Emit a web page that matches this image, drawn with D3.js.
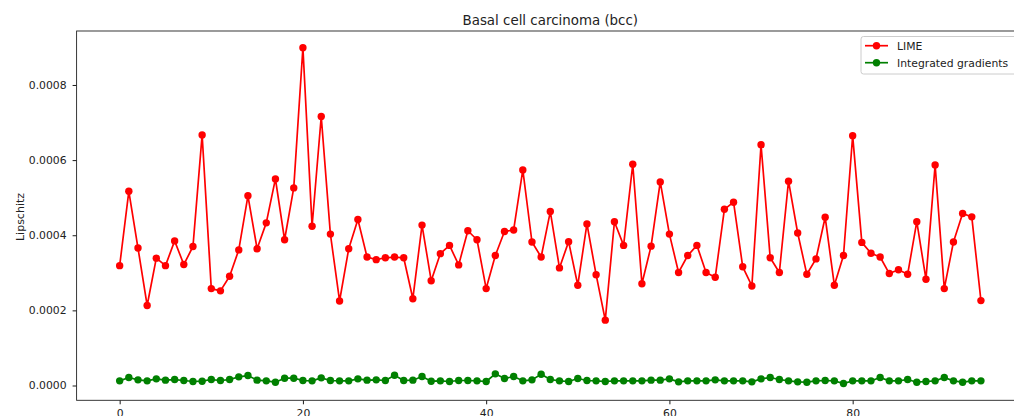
<!DOCTYPE html>
<html>
<head>
<meta charset="utf-8">
<script src="https://cdn.jsdelivr.net/npm/d3@7"></script>
<style>
html,body{margin:0;padding:0;background:#fff;overflow:hidden;}
text{font-family:"DejaVu Sans",sans-serif;}
</style>
</head>
<body>
<svg id="chart" width="1014" height="416"></svg>
<script>
const title = "Basal cell carcinoma (bcc)";
const yLabel = "Lipschitz";
const seriesNames = ["LIME", "Integrated gradients"];
const xTicks = [0, 20, 40, 60, 80];
const yTicks = [0, 0.0002, 0.0004, 0.0006, 0.0008];

const limeValues = [
  0.000319, 0.000517, 0.000366, 0.000213, 0.000339, 0.000319, 0.000385, 0.000322, 0.000370, 0.000667,
  0.000258, 0.000252, 0.000291, 0.000361, 0.000505, 0.000364, 0.000433, 0.000550, 0.000388, 0.000526,
  0.000899, 0.000424, 0.000716, 0.000403, 0.000225, 0.000364, 0.000442, 0.000342, 0.000335, 0.000340,
  0.000342, 0.000340, 0.000231, 0.000427, 0.000279, 0.000351, 0.000373, 0.000321, 0.000412, 0.000388,
  0.000258, 0.000346, 0.000410, 0.000414, 0.000574, 0.000382, 0.000342, 0.000463, 0.000313, 0.000383,
  0.000267, 0.000430, 0.000295, 0.000174, 0.000436, 0.000373, 0.000589, 0.000271, 0.000371, 0.000542,
  0.000403, 0.000301, 0.000346, 0.000373, 0.000301, 0.000288, 0.000469, 0.000488, 0.000316, 0.000265,
  0.000641, 0.000340, 0.000301, 0.000544, 0.000406, 0.000296, 0.000337, 0.000448, 0.000267, 0.000346,
  0.000665, 0.000381, 0.000352, 0.000342, 0.000298, 0.000308, 0.000296, 0.000436, 0.000283, 0.000587,
  0.000258, 0.000382, 0.000458, 0.000449, 0.000226
];

const igValues = [
  0.0000124, 0.0000212, 0.0000150, 0.0000124, 0.0000177, 0.0000142, 0.0000159, 0.0000133, 0.0000106, 0.0000115,
  0.0000159, 0.0000133, 0.0000159, 0.0000230, 0.0000265, 0.0000142, 0.0000124, 0.0000088, 0.0000195, 0.0000195,
  0.0000133, 0.0000124, 0.0000204, 0.0000133, 0.0000124, 0.0000124, 0.0000177, 0.0000142, 0.0000150, 0.0000133,
  0.0000274, 0.0000133, 0.0000142, 0.0000239, 0.0000115, 0.0000124, 0.0000106, 0.0000133, 0.0000133, 0.0000124,
  0.0000106, 0.0000310, 0.0000186, 0.0000239, 0.0000124, 0.0000150, 0.0000300, 0.0000159, 0.0000124, 0.0000106,
  0.0000186, 0.0000133, 0.0000124, 0.0000106, 0.0000124, 0.0000124, 0.0000124, 0.0000124, 0.0000142, 0.0000142,
  0.0000177, 0.0000097, 0.0000124, 0.0000124, 0.0000124, 0.0000150, 0.0000124, 0.0000124, 0.0000124, 0.0000097,
  0.0000177, 0.0000212, 0.0000159, 0.0000124, 0.0000097, 0.0000088, 0.0000124, 0.0000133, 0.0000124, 0.0000053,
  0.0000124, 0.0000124, 0.0000124, 0.0000212, 0.0000124, 0.0000124, 0.0000159, 0.0000088, 0.0000106, 0.0000124,
  0.0000212, 0.0000124, 0.0000088, 0.0000124, 0.0000124
];

const colors = ["#ff0000", "#008000"];

(function () {
const svg = d3.select("#chart");
const pLeft = 76.6, pRight = 1024, pTop = 31, pBottom = 400.3;

const n = limeValues.length;
const xMax = n - 1;
const xPad = xMax * 0.05;
const x = d3.scaleLinear().domain([-xPad, xMax + xPad]).range([pLeft, pRight]);

const all = limeValues.concat(igValues);
const yMin = d3.min(all), yMaxV = d3.max(all);
const yPad = (yMaxV - yMin) * 0.05;
const y = d3.scaleLinear().domain([yMin - yPad, yMaxV + yPad]).range([pBottom, pTop]);

const xAxis = d3.axisBottom(x).tickValues(xTicks).tickSize(4).tickPadding(5.5).tickFormat(d3.format("d"));
const yAxis = d3.axisLeft(y).tickValues(yTicks).tickSize(4).tickPadding(6).tickFormat(d3.format(".4f"));

const gx = svg.append("g").attr("transform", `translate(0,${pBottom})`).call(xAxis);
const gy = svg.append("g").attr("transform", `translate(${pLeft},0)`).call(yAxis);
[gx, gy].forEach(g => {
  g.select(".domain").remove();
  g.selectAll(".tick line").attr("stroke", "#000").attr("stroke-width", 0.9);
  g.selectAll(".tick text").attr("fill", "#222").style("font-size", "10.8px").style("font-family", "DejaVu Sans");
});

svg.append("rect").attr("x", pLeft).attr("y", pTop).attr("width", pRight - pLeft).attr("height", pBottom - pTop)
  .attr("fill", "none").attr("stroke", "#222").attr("stroke-width", 0.9);

const seriesData = [limeValues, igValues];
seriesData.forEach((vals, k) => {
  const line = d3.line().x((d, i) => x(i)).y(d => y(d));
  svg.append("path").datum(vals).attr("d", line).attr("fill", "none")
    .attr("stroke", colors[k]).attr("stroke-width", 1.7).attr("stroke-linejoin", "round");
  svg.append("g").selectAll("circle").data(vals).join("circle")
    .attr("cx", (d, i) => x(i)).attr("cy", d => y(d)).attr("r", 3.7).attr("fill", colors[k]);
});

svg.append("text").attr("x", (pLeft + pRight) / 2).attr("y", 25).attr("text-anchor", "middle")
  .style("font-size", "13.4px").attr("fill", "#222").text(title);

svg.append("text").attr("transform", `translate(23.5,217) rotate(-90)`)
  .attr("text-anchor", "middle").style("font-size", "11px").attr("fill", "#222").text(yLabel);

const lg = svg.append("g");
lg.append("rect").attr("x", 861).attr("y", 36.5).attr("width", 170).attr("height", 37.5).attr("rx", 2.5)
  .attr("fill", "#fff").attr("fill-opacity", 0.8).attr("stroke", "#cccccc").attr("stroke-width", 1);
seriesNames.forEach((name, k) => {
  const cy = 45.7 + k * 17;
  lg.append("line").attr("x1", 865).attr("x2", 888).attr("y1", cy).attr("y2", cy)
    .attr("stroke", colors[k]).attr("stroke-width", 1.7);
  lg.append("circle").attr("cx", 876.5).attr("cy", cy).attr("r", 3.7).attr("fill", colors[k]);
  lg.append("text").attr("x", 897).attr("y", cy + 4).style("font-size", "10.8px").attr("fill", "#222").text(name);
});
})();
</script>
</body>
</html>
